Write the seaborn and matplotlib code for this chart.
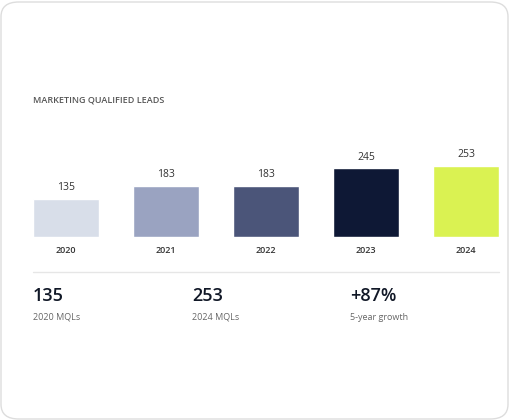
import matplotlib
matplotlib.use("Agg")
import matplotlib.pyplot as plt
import seaborn as sns
import pandas as pd
from matplotlib.patches import FancyBboxPatch

years = ["2020", "2021", "2022", "2023", "2024"]
mqls = [135, 183, 183, 245, 253]
colors = ["#d8dee9", "#9aa3c1", "#4b5579", "#0e1835", "#daf252"]
stat_values = ["135", "253", "+87%"]
stat_labels = ["2020 MQLs", "2024 MQLs", "5-year growth"]

sns.set_style("white")
plt.rcParams['font.family'] = ['Open Sans', 'DejaVu Sans']

W, H = 510, 420
fig = plt.figure(figsize=(W / 100, H / 100), dpi=100)
fig.patch.set_facecolor("white")

# card (kept behind the axes)
card = FancyBboxPatch((1 / W, 1 / H), 507 / W, 417 / H, boxstyle="round,pad=0,rounding_size=0.035",
                      transform=fig.transFigure, facecolor="white", edgecolor="#dddddd",
                      linewidth=1, zorder=-10)
fig.patches.append(card)

fig.text(33 / W, 1 - 100 / H, "MARKETING QUALIFIED LEADS", fontsize=6.5, color="#555555",
         va="center", fontweight="semibold")

ax = fig.add_axes([33 / W, (H - 237) / H, 466 / W, 100 / H])
ax.patch.set_alpha(0)
df = pd.DataFrame({"year": years, "mql": mqls})
sns.barplot(data=df, x="year", y="mql", hue="year", palette=colors, legend=False,
            width=0.66, ax=ax, saturation=1)
ax.set_xlim(-0.33, 4.33)
ax.set_ylim(0, 100 / 0.28)
ax.axis("off")
for i, (yr, v) in enumerate(zip(years, mqls)):
    ax.text(i, v + 40, str(v), ha="center", va="center", fontsize=7.5, color="#333333")
    ax.text(i, -47, yr, ha="center", va="center", fontsize=6.5, color="#333333",
            fontweight="semibold", clip_on=False)

fig.add_artist(plt.Line2D([33 / W, 499 / W], [1 - 272 / H] * 2, color="#e6e6e6", lw=1))
for x, v, lab in zip([33, 192, 350], stat_values, stat_labels):
    fig.text(x / W, 1 - 296 / H, v, fontsize=13, color="#111827", va="center", fontweight="semibold")
    fig.text(x / W, 1 - 317 / H, lab, fontsize=6.5, color="#666666", va="center")

fig.savefig("out.png", dpi=100)
